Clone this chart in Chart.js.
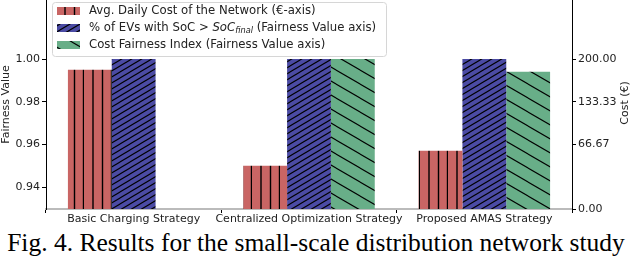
<!DOCTYPE html>
<html lang="en">
<head>
<meta charset="UTF-8">
<title>Small-scale distribution network study</title>
<script src="https://cdn.jsdelivr.net/npm/chart.js"></script>
<style>
    body {
        margin: 0;
        background: #fff;
        width: 632px;
        height: 260px;
        overflow: hidden;
    }

    #wrap {
        position: relative;
        width: 632px;
        height: 226px;
    }

    #caption {
        font-family: "Liberation Serif", "DejaVu Serif", serif;
        font-size: 25.5px;
        line-height: 34px;
        height: 34px;
        text-align: center;
        white-space: nowrap;
        color: #000;
    }
</style>
</head>
<body>

<div id="wrap"><canvas id="grafica"></canvas></div>
<div id="caption">Fig. 4. Results for the small-scale distribution network study</div>

<script>
    // data
    const strategies = ['Basic Charging Strategy', 'Centralized Optimization Strategy', 'Proposed AMAS Strategy'];
    // cost bars share the bar height scale with the fairness axis (twin axis)
    const avgCost = [0.995, 0.950, 0.957];
    const evsAboveSoc = [1.00, 1.00, 1.00];
    const costFairness = [null, 1.00, 0.994];

    const yMin = 0.9297;
    const yMax = 1.0277;
    const fairnessTicks = [0.94, 0.96, 0.98, 1.00];
    const costTickPos = [yMin, 0.96, 0.98, 1.00];
    const costTickLabels = ['0.00', '66.67', '133.33', '200.00'];

    const FONT = { family: 'DejaVu Sans', size: 11 };
    const TXT = '#222';
    const LEG = 11.7;

    // hatch patterns
    function hatch(w, h, bg, draw) {
        const c = document.createElement('canvas');
        c.width = w;
        c.height = h;
        const g = c.getContext('2d');
        g.fillStyle = bg;
        g.fillRect(0, 0, w, h);
        g.strokeStyle = '#000';
        g.lineWidth = 1.1;
        draw(g, w, h);
        return g.createPattern(c, 'repeat');
    }

    function diag(g, w, h, up) {
        for (const dx of [-w, 0, w]) {
            for (const dy of [-h, 0, h]) {
                g.beginPath();
                if (up) {
                    g.moveTo(dx, h + dy);
                    g.lineTo(w + dx, dy);
                } else {
                    g.moveTo(dx, dy);
                    g.lineTo(w + dx, h + dy);
                }
                g.stroke();
            }
        }
    }

    const redHatch = hatch(28, 4, '#c96564', (g, w, h) => {
        g.lineWidth = 1.4;
        for (const x of [18.5, 27.5, 9.0]) {
            g.beginPath();
            g.moveTo(x, 0);
            g.lineTo(x, h);
            g.stroke();
        }
    });
    const blueHatch = hatch(10, 6, '#4b4ba4', (g, w, h) => diag(g, w, h, true));
    const greenHatch = hatch(24, 14, '#68ae88', (g, w, h) => diag(g, w, h, false));

    // legend drawn by hand (needs italic + subscript)
    const legendBox = {
        id: 'legendBox',
        afterDraw(chart) {
            const c = chart.ctx;
            c.save();
            c.beginPath();
            c.roundRect(52.5, 2.5, 334, 54, 3);
            c.fillStyle = 'rgba(255,255,255,0.85)';
            c.fill();
            c.strokeStyle = '#d6d6d6';
            c.lineWidth = 1;
            c.stroke();

            const rows = [11, 28, 45];
            const fills = [redHatch, blueHatch, greenHatch];
            rows.forEach((y, i) => {
                c.fillStyle = fills[i];
                c.fillRect(57, y - 4, 23, 8);
            });

            c.fillStyle = TXT;
            c.textBaseline = 'middle';
            c.font = LEG + 'px "DejaVu Sans"';
            c.fillText('Avg. Daily Cost of the Network (€-axis)', 89, rows[0]);

            let x = 89;
            const a = '% of EVs with SoC > ';
            c.fillText(a, x, rows[1]);
            x += c.measureText(a).width;
            c.font = 'italic ' + LEG + 'px "DejaVu Sans"';
            c.fillText('SoC', x, rows[1]);
            x += c.measureText('SoC').width;
            c.font = 'italic ' + (LEG * 0.7) + 'px "DejaVu Sans"';
            c.fillText('final', x, rows[1] + 3);
            x += c.measureText('final').width;
            c.font = LEG + 'px "DejaVu Sans"';
            c.fillText(' (Fairness Value axis)', x, rows[1]);

            c.fillText('Cost Fairness Index (Fairness Value axis)', 89, rows[2]);

            // right axis title, reads bottom to top
            c.font = '11px "DejaVu Sans"';
            c.translate(625, 103);
            c.rotate(-Math.PI / 2);
            c.textAlign = 'center';
            c.fillText('Cost (€)', 0, 0);
            c.restore();
        }
    };

    const ctx = document.getElementById('grafica').getContext('2d');
    const grafica = new Chart(ctx, {
        type: 'bar',
        data: {
            labels: strategies,
            datasets: [
                {
                    label: 'Avg. Daily Cost of the Network (€-axis)',
                    data: avgCost,
                    backgroundColor: redHatch,
                    yAxisID: 'y1'
                },
                {
                    label: '% of EVs with SoC > SoC_final (Fairness Value axis)',
                    data: evsAboveSoc,
                    backgroundColor: blueHatch,
                    yAxisID: 'y'
                },
                {
                    label: 'Cost Fairness Index (Fairness Value axis)',
                    data: costFairness,
                    backgroundColor: greenHatch,
                    yAxisID: 'y'
                }
            ]
        },
        options: {
            responsive: true,
            maintainAspectRatio: false,
            animation: false,
            layout: { padding: 0 },
            datasets: {
                bar: { categoryPercentage: 0.75, barPercentage: 1.0, borderWidth: 0 }
            },
            plugins: {
                legend: { display: false },
                tooltip: { enabled: false }
            },
            scales: {
                x: {
                    offset: true,
                    grid: { drawOnChartArea: false, drawTicks: true, tickLength: 4, color: '#000' },
                    border: { color: '#bbb', width: 2 },
                    ticks: { font: FONT, color: TXT, padding: 0, maxRotation: 0, autoSkip: false },
                    afterFit(s) {
                        s.height = 17;
                        s.paddingLeft = 0;
                        s.paddingRight = 0;
                    }
                },
                y: {
                    position: 'left',
                    min: yMin,
                    max: yMax,
                    afterBuildTicks(s) {
                        s.ticks = fairnessTicks.map(v => ({ value: v }));
                    },
                    ticks: { font: FONT, color: TXT, padding: 2, callback: v => v.toFixed(2) },
                    grid: { drawOnChartArea: false, tickLength: 4, color: '#000' },
                    border: { color: '#000' },
                    title: { display: true, text: 'Fairness Value', font: FONT, color: TXT, padding: 0 },
                    afterFit(s) {
                        s.width = 46;
                        s.paddingTop = 0;
                        s.paddingBottom = 0;
                    }
                },
                y1: {
                    position: 'right',
                    min: yMin,
                    max: yMax,
                    afterBuildTicks(s) {
                        s.ticks = costTickPos.map(v => ({ value: v }));
                    },
                    ticks: { font: FONT, color: TXT, padding: 2, callback: (v, i) => costTickLabels[i] },
                    grid: { drawOnChartArea: false, tickLength: 4, color: '#000' },
                    border: { color: '#000' },
                    afterFit(s) {
                        s.width = 60;
                        s.paddingTop = 0;
                        s.paddingBottom = 0;
                    }
                }
            }
        },
        plugins: [legendBox]
    });
</script>

</body>
</html>
